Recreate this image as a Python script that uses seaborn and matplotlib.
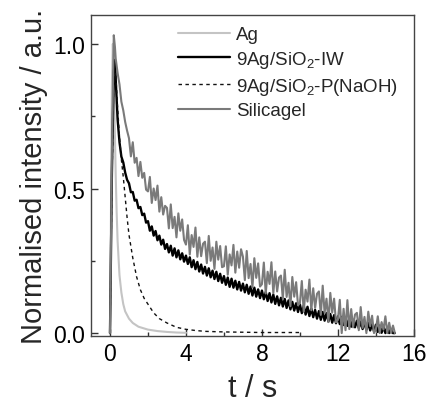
import numpy as np
import pandas as pd
import matplotlib
matplotlib.use("Agg")
import matplotlib.pyplot as plt
import seaborn as sns

# ---------------- data ----------------
labels = ["Ag", "9Ag/SiO$_2$-IW", "9Ag/SiO$_2$-P(NaOH)", "Silicagel"]

ag_t = [0.0, 0.05, 0.1, 0.15, 0.2, 0.25, 0.3, 0.35, 0.4, 0.5, 0.6, 0.7, 0.8,
        1.0, 1.2, 1.5, 2.0, 2.5, 3.0, 3.5, 4.0]
ag_v = [0.0, 0.40, 0.85, 1.00, 0.90, 0.72, 0.55, 0.42, 0.32, 0.20, 0.14, 0.10,
        0.075, 0.05, 0.035, 0.022, 0.012, 0.007, 0.004, 0.002, 0.001]

p_t = [0.0, 0.1, 0.2, 0.3, 0.4, 0.5, 0.6, 0.7, 0.8, 0.9, 1.0, 1.2, 1.4, 1.6,
       1.8, 2.0, 2.3, 2.6, 3.0, 3.5, 4.0, 4.5, 5.0, 6.0, 7.0, 8.0, 9.0, 10.0]
p_v = [0.0, 0.50, 0.88, 0.90, 0.78, 0.68, 0.60, 0.54, 0.47, 0.40, 0.34, 0.26,
       0.195, 0.15, 0.12, 0.10, 0.07, 0.05, 0.035, 0.02, 0.013, 0.009, 0.006,
       0.004, 0.003, 0.002, 0.002, 0.002]

early_t = [0.0, 0.02, 0.1, 0.2, 0.26, 0.3, 0.4, 0.5, 0.6, 0.7, 0.8, 0.9]
late_t = list(np.round(np.arange(1.0, 15.01, 0.1), 2))

iw_early = [0.0, 0.10, 0.55, 0.90, 0.945, 0.88, 0.74, 0.66, 0.61, 0.59, 0.555, 0.53]
iw_late = [
    0.518, 0.487, 0.488, 0.458, 0.461, 0.432, 0.436, 0.408, 0.413, 0.382,
    0.387, 0.354, 0.369, 0.337, 0.353, 0.321, 0.337, 0.306, 0.323, 0.291,
    0.308, 0.279, 0.302, 0.268, 0.293, 0.262, 0.286, 0.255, 0.276, 0.247,
    0.268, 0.239, 0.262, 0.228, 0.252, 0.221, 0.246, 0.213, 0.237, 0.206,
    0.229, 0.199, 0.224, 0.193, 0.216, 0.187, 0.212, 0.180, 0.205, 0.174,
    0.197, 0.167, 0.192, 0.160, 0.188, 0.157, 0.181, 0.151, 0.177, 0.147,
    0.171, 0.141, 0.167, 0.136, 0.161, 0.130, 0.157, 0.126, 0.151, 0.121,
    0.147, 0.117, 0.142, 0.111, 0.138, 0.106, 0.133, 0.101, 0.127, 0.096,
    0.122, 0.092, 0.118, 0.087, 0.113, 0.082, 0.108, 0.078, 0.103, 0.073,
    0.099, 0.069, 0.095, 0.064, 0.091, 0.059, 0.085, 0.055, 0.080, 0.050,
    0.076, 0.046, 0.073, 0.043, 0.069, 0.040, 0.066, 0.036, 0.062, 0.034,
    0.058, 0.031, 0.056, 0.028, 0.053, 0.025, 0.050, 0.022, 0.046, 0.020,
    0.043, 0.017, 0.040, 0.014, 0.038, 0.011, 0.035, 0.009, 0.031, 0.006,
    0.029, 0.004, 0.026, 0.001, 0.022, 0.000, 0.019, 0.000, 0.014, 0.000,
    0.000]

sg_early = [0.0, 0.11, 0.62, 1.03, 0.99, 0.95, 0.90, 0.86, 0.80, 0.77, 0.73, 0.70]
sg_late = [
    0.674, 0.611, 0.660, 0.589, 0.606, 0.543, 0.592, 0.537, 0.554, 0.496,
    0.490, 0.540, 0.450, 0.500, 0.460, 0.510, 0.420, 0.470, 0.410, 0.440,
    0.433, 0.362, 0.445, 0.363, 0.402, 0.331, 0.414, 0.354, 0.393, 0.322,
    0.306, 0.373, 0.272, 0.339, 0.298, 0.365, 0.264, 0.331, 0.266, 0.309,
    0.316, 0.242, 0.336, 0.250, 0.296, 0.222, 0.316, 0.254, 0.301, 0.228,
    0.231, 0.300, 0.202, 0.272, 0.234, 0.305, 0.209, 0.282, 0.226, 0.290,
    0.264, 0.183, 0.284, 0.190, 0.239, 0.158, 0.259, 0.191, 0.241, 0.161,
    0.169, 0.244, 0.137, 0.212, 0.170, 0.245, 0.138, 0.213, 0.144, 0.192,
    0.199, 0.118, 0.219, 0.125, 0.174, 0.093, 0.194, 0.126, 0.176, 0.096,
    0.104, 0.180, 0.074, 0.150, 0.109, 0.185, 0.079, 0.155, 0.087, 0.136,
    0.144, 0.063, 0.164, 0.070, 0.119, 0.038, 0.139, 0.071, 0.119, 0.037,
    0.046, 0.115, 0.000, 0.084, 0.010, 0.114, 0.014, 0.083, 0.020, 0.064,
    0.070, 0.010, 0.090, 0.018, 0.056, 0.000, 0.074, 0.024, 0.060, 0.000,
    0.012, 0.058, 0.000, 0.038, 0.012, 0.058, 0.000, 0.036, 0.000, 0.026,
    0.000]

x_ticks = [0, 4, 8, 12, 16]
y_ticks = [0.0, 0.5, 1.0]

# ---------------- style ----------------
sns.set_style("ticks")
plt.rcParams["font.family"] = ["Liberation Sans", "DejaVu Sans"]
plt.rcParams["mathtext.default"] = "regular"

fig = plt.figure(figsize=(4.28, 4.06), dpi=100)
ax = fig.add_axes([0.2126, 0.170, 0.7544, 0.7906])

series = [
    (ag_t, ag_v, labels[0], "#c4c4c4", "-", 1.5),
    (early_t + late_t, iw_early + iw_late, labels[1], "#000000", "-", 1.7),
    (p_t, p_v, labels[2], "#111111", (0, (2.5, 2.5)), 1.0),
    (early_t + late_t, sg_early + sg_late, labels[3], "#7a7a7a", "-", 1.5),
]
for t, v, lab, col, ls, lw in series:
    df = pd.DataFrame({"t": t, "v": v})
    sns.lineplot(data=df, x="t", y="v", ax=ax, color=col, linestyle=ls,
                 linewidth=lw, label=lab, estimator=None, sort=False)

ax.set_xlim(-1, 16)
ax.set_ylim(-0.01, 1.10)
ax.set_xticks(x_ticks)
ax.set_xticklabels([str(x) for x in x_ticks])
ax.set_yticks(y_ticks)
ax.set_yticklabels(["0.0", "0.5", "1.0"])
ax.set_xticks([2, 6, 10, 14], minor=True)
ax.set_yticks([0.25, 0.75], minor=True)
ax.tick_params(which="both", direction="in", top=False, right=False,
               colors="#333333", labelcolor="black")
ax.tick_params(which="major", length=5, width=1, labelsize=16.5, pad=4)
ax.tick_params(which="minor", length=3, width=1)
for s in ax.spines.values():
    s.set_visible(True)
    s.set_color("#444444")
    s.set_linewidth(1.0)

ax.set_xlabel("t / s", fontsize=22, labelpad=6)
ax.set_ylabel("Normalised intensity / a.u.", fontsize=21, labelpad=4)

leg = ax.legend(loc="upper right", frameon=False, fontsize=13.5,
                handlelength=2.8, handletextpad=0.3, labelspacing=0.3,
                borderaxespad=0.2, bbox_to_anchor=(0.985, 1.0))

fig.savefig("out.png", dpi=100)
